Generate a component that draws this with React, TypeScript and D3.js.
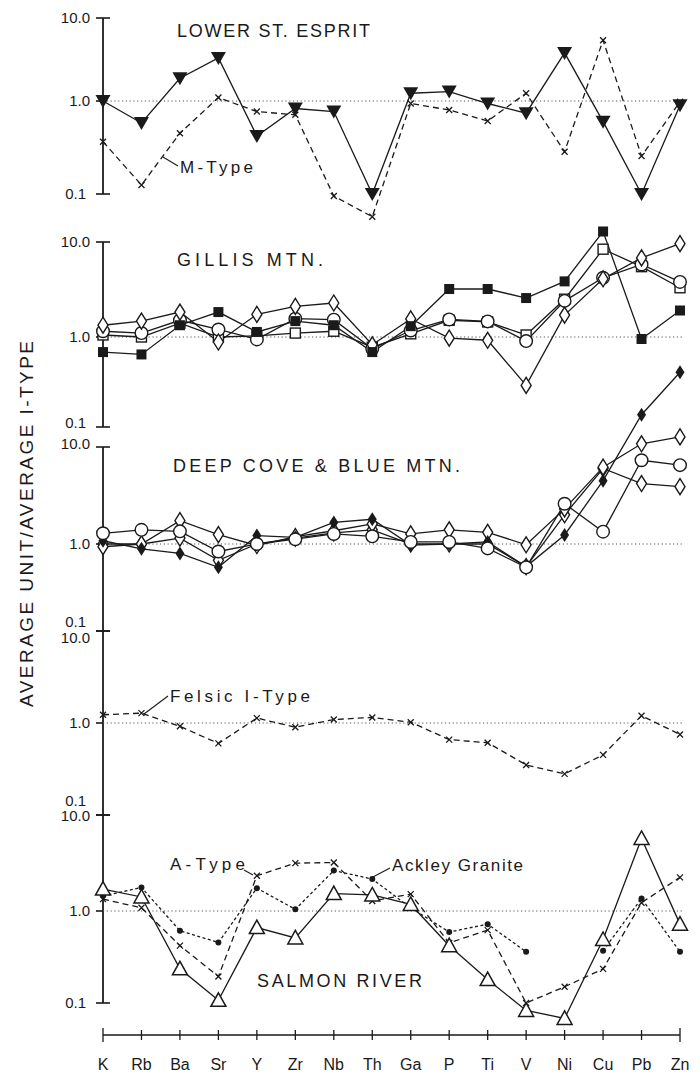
import * as d3 from "d3";

const elements = ["K", "Rb", "Ba", "Sr", "Y", "Zr", "Nb", "Th", "Ga", "P", "Ti", "V", "Ni", "Cu", "Pb", "Zn"];
const tickLabels = ["10.0", "1.0", "0.1"];

// Lower St. Esprit panel
const lowerStEsprit = [1.0, 0.58, 1.88, 3.3, 0.42, 0.83, 0.77, 0.1, 1.24, 1.3, 0.94, 0.74, 3.8, 0.6, 0.1, 0.9];
const mType = [0.365, 0.125, 0.45, 1.1, 0.77, 0.71, 0.095, 0.057, 0.94, 0.8, 0.61, 1.24, 0.285, 5.4, 0.256, 0.98];

// Gillis Mtn. panel
const gillisFilledSquare = [0.68, 0.64, 1.33, 1.83, 1.13, 1.47, 1.33, 0.68, 1.3, 3.2, 3.2, 2.57, 3.85, 12.9, 0.95, 1.9];
const gillisOpenSquare = [1.05, 1.0, 1.4, 1.0, 1.03, 1.1, 1.15, 0.77, 1.08, 1.5, 1.44, 1.05, 2.5, 8.4, 5.5, 3.3];
const gillisCircle = [1.15, 1.1, 1.5, 1.2, 0.94, 1.56, 1.52, 0.74, 1.17, 1.53, 1.46, 0.9, 2.4, 4.2, 5.8, 3.8];
const gillisDiamond = [1.33, 1.47, 1.83, 0.88, 1.73, 2.1, 2.28, 0.82, 1.55, 0.97, 0.92, 0.29, 1.7, 4.1, 6.8, 9.6];

// Deep Cove & Blue Mtn. panel
const deepFilledDiamond = [1.08, 0.88, 0.78, 0.54, 1.22, 1.17, 1.67, 1.8, 0.97, 1.0, 1.05, 0.55, 1.24, 4.5, 21.5, 59];
const deepCircle = [1.29, 1.4, 1.35, 0.82, 1.0, 1.12, 1.27, 1.2, 1.05, 1.05, 0.89, 0.54, 2.6, 1.34, 7.3, 6.5];
const deepDiamondA = [0.93, 1.0, 1.74, 1.25, 0.96, 1.19, 1.37, 1.61, 1.27, 1.4, 1.32, 0.98, 2.3, 6.2, 10.8, 12.7];
const deepDiamondB = [1.0, 1.0, 1.15, 0.65, 1.0, 1.15, 1.3, 1.4, 1.0, 1.0, 1.0, 0.55, 2.0, 6.0, 4.2, 3.9];

// Felsic I-Type panel
const felsicIType = [1.23, 1.28, 0.92, 0.6, 1.13, 0.9, 1.09, 1.15, 1.02, 0.66, 0.61, 0.35, 0.28, 0.45, 1.2, 0.75];

// Salmon River panel
const salmonRiver = [1.69, 1.4, 0.235, 0.107, 0.66, 0.51, 1.52, 1.47, 1.17, 0.42, 0.18, 0.083, 0.068, 0.49, 5.7, 0.72];
const aType = [1.33, 1.08, 0.42, 0.194, 2.33, 3.15, 3.2, 1.27, 1.5, 0.45, 0.62, 0.1, 0.15, 0.235, 1.22, 2.24];
const ackleyGranite = [1.43, 1.76, 0.61, 0.455, 1.73, 1.04, 2.64, 2.15, 1.08, 0.59, 0.72, 0.36, null, 0.37, 1.35, 0.36];

type Marker = "triDown" | "sqFilled" | "sqOpen" | "circle" | "diamond" | "diamondFilled" | "cross" | "triUp" | "dot";
type Series = { values: (number | null)[]; marker: Marker; dash?: string };

const INK = "#1a1a1a";
const FONT = "'Liberation Sans', Arial, sans-serif";

// y pixel of 10.0, 1.0, 0.1 for each panel (decades are hand drawn, not equal)
const panels: { ticks: number[]; series: Series[]; labelDy: number[] }[] = [
  {
    ticks: [18, 101, 194],
    labelDy: [0, 0, 0],
    series: [
      { values: mType, marker: "cross", dash: "6,4" },
      { values: lowerStEsprit, marker: "triDown" },
    ],
  },
  {
    ticks: [242, 337, 427],
    labelDy: [0, 0, -4],
    series: [
      { values: gillisOpenSquare, marker: "sqOpen" },
      { values: gillisCircle, marker: "circle" },
      { values: gillisDiamond, marker: "diamond" },
      { values: gillisFilledSquare, marker: "sqFilled" },
    ],
  },
  {
    ticks: [447, 544, 631],
    labelDy: [-3, 0, -9],
    series: [
      { values: deepDiamondB, marker: "diamond" },
      { values: deepDiamondA, marker: "diamond" },
      { values: deepFilledDiamond, marker: "diamondFilled" },
      { values: deepCircle, marker: "circle" },
    ],
  },
  {
    ticks: [631, 723, 815],
    labelDy: [7, 0, -14],
    series: [{ values: felsicIType, marker: "cross", dash: "6,4" }],
  },
  {
    ticks: [815, 911, 1003],
    labelDy: [1, 0, 0],
    series: [
      { values: ackleyGranite, marker: "dot", dash: "3,2.5" },
      { values: aType, marker: "cross", dash: "6,4" },
      { values: salmonRiver, marker: "triUp" },
    ],
  },
];

const AXIS_X = 103;
const axisSegments = [
  [18, 194],
  [242, 427],
  [447, 1003],
];

const x = d3.scalePoint<string>().domain(elements).range([AXIS_X, 680]);

function marker(type: Marker, cx: number, cy: number, key: string) {
  const sw = 1.4;
  switch (type) {
    case "triDown":
      return <path key={key} d={`M${cx - 7.5},${cy - 6}L${cx + 7.5},${cy - 6}L${cx},${cy + 7}Z`} fill={INK} />;
    case "triUp":
      return (
        <path key={key} d={`M${cx},${cy - 7.5}L${cx + 7.5},${cy + 6}L${cx - 7.5},${cy + 6}Z`} fill="#fff" stroke={INK} strokeWidth={1.5} />
      );
    case "sqFilled":
      return <rect key={key} x={cx - 5} y={cy - 5} width={10} height={10} fill={INK} />;
    case "sqOpen":
      return <rect key={key} x={cx - 5} y={cy - 5} width={10} height={10} fill="#fff" stroke={INK} strokeWidth={sw} />;
    case "circle":
      return <circle key={key} cx={cx} cy={cy} r={6.3} fill="#fff" stroke={INK} strokeWidth={sw} />;
    case "diamond":
      return (
        <path key={key} d={`M${cx},${cy - 8}L${cx + 5},${cy}L${cx},${cy + 8}L${cx - 5},${cy}Z`} fill="#fff" stroke={INK} strokeWidth={sw} />
      );
    case "diamondFilled":
      return <path key={key} d={`M${cx},${cy - 7}L${cx + 4.5},${cy}L${cx},${cy + 7}L${cx - 4.5},${cy}Z`} fill={INK} />;
    case "cross":
      return (
        <path key={key} d={`M${cx - 3},${cy - 3}L${cx + 3},${cy + 3}M${cx + 3},${cy - 3}L${cx - 3},${cy + 3}`} stroke={INK} strokeWidth={1.3} />
      );
    case "dot":
      return <circle key={key} cx={cx} cy={cy} r={3} fill={INK} />;
  }
}

export default function App() {
  return (
    <svg
      width={700}
      height={1078}
      style={{ position: "absolute", left: 0, top: 0, background: "#fff" }}
      fontFamily={FONT}
    >
      <rect width={700} height={1078} fill="#fff" />

      {/* vertical axis segments */}
      {axisSegments.map(([a, b], i) => (
        <line key={`ax${i}`} x1={AXIS_X} x2={AXIS_X} y1={a} y2={b} stroke={INK} strokeWidth={1.8} />
      ))}

      {panels.map((p, pi) => {
        const y = d3.scaleLog().domain([10, 1, 0.1]).range(p.ticks);
        const line = d3
          .line<number | null>()
          .defined((d) => d != null)
          .x((_, i) => x(elements[i])!)
          .y((d) => y(d as number));
        return (
          <g key={`p${pi}`}>
            {/* 1.0 reference */}
            <line
              x1={AXIS_X}
              x2={682}
              y1={y(1)}
              y2={y(1)}
              stroke="#555"
              strokeWidth={1}
              strokeDasharray="1.2,2.6"
            />
            {/* tick marks */}
            {[10, 1, 0.1].map((v, ti) => (
              <line
                key={`t${ti}`}
                x1={AXIS_X - 7}
                x2={ti === 1 ? AXIS_X : AXIS_X + 7}
                y1={y(v)}
                y2={y(v)}
                stroke={INK}
                strokeWidth={1.6}
              />
            ))}
            {tickLabels.map((t, ti) => (
              <text
                key={`l${ti}`}
                x={ti === 2 ? 86 : 90}
                y={p.ticks[ti] + p.labelDy[ti]}
                dy="0.35em"
                textAnchor="end"
                fontSize={15}
                fill={INK}
              >
                {t}
              </text>
            ))}
            {p.series.map((s, si) => (
              <path
                key={`s${si}`}
                d={line(s.values) ?? ""}
                fill="none"
                stroke={INK}
                strokeWidth={1.3}
                strokeDasharray={s.dash}
              />
            ))}
            {p.series.map((s, si) =>
              s.values.map((v, i) =>
                v == null ? null : marker(s.marker, x(elements[i])!, y(v), `m${si}-${i}`)
              )
            )}
          </g>
        );
      })}

      {/* panel titles */}
      <g fontSize={18} fill={INK}>
        <text x={177} y={37} textLength={193} lengthAdjust="spacing">LOWER ST. ESPRIT</text>
        <text x={177} y={266} textLength={146} lengthAdjust="spacing">GILLIS  MTN.</text>
        <text x={173} y={472} textLength={287} lengthAdjust="spacing">DEEP COVE &amp; BLUE MTN.</text>
        <text x={257} y={987} textLength={165} lengthAdjust="spacing">SALMON RIVER</text>
      </g>

      {/* series annotations */}
      <g fontSize={17} fill={INK}>
        <text x={180} y={173} textLength={73} lengthAdjust="spacing">M-Type</text>
        <text x={170} y={702} textLength={140} lengthAdjust="spacing">Felsic I-Type</text>
        <text x={170} y={870} textLength={75} lengthAdjust="spacing">A-Type</text>
        <text x={392} y={871} textLength={131} lengthAdjust="spacing">Ackley Granite</text>
      </g>
      <g stroke={INK} strokeWidth={1.1} fill="none">
        <path d="M163,157L178,166" />
        <path d="M144,714L168,696" />
        <path d="M244,870L253,875" />
        <path d="M371,878L390,868" />
      </g>

      {/* bottom category axis */}
      <line x1={AXIS_X} x2={680} y1={1035} y2={1035} stroke={INK} strokeWidth={1.6} />
      {elements.map((e, i) => (
        <g key={e}>
          <line
            x1={x(e)}
            x2={x(e)}
            y1={i === 0 || i === elements.length - 1 ? 1028 : 1030}
            y2={i === 0 || i === elements.length - 1 ? 1042 : 1040}
            stroke={INK}
            strokeWidth={1.3}
          />
          <text x={x(e)} y={1070} textAnchor="middle" fontSize={16} fill={INK}>
            {e}
          </text>
        </g>
      ))}

      {/* y axis title */}
      <text
        transform="translate(33,524) rotate(-90)"
        textAnchor="middle"
        fontSize={19}
        fill={INK}
        textLength={366}
        lengthAdjust="spacing"
      >
        AVERAGE UNIT/AVERAGE I-TYPE
      </text>
    </svg>
  );
}
